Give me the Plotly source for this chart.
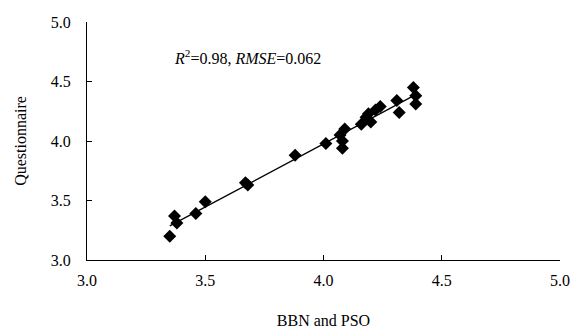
import numpy as np
import plotly.graph_objects as go

bbn_pso = [3.35, 3.37, 3.38, 3.46, 3.50, 3.67, 3.68, 3.88, 4.01, 4.07, 4.08, 4.08,
           4.09, 4.16, 4.18, 4.19, 4.20, 4.22, 4.24, 4.31, 4.32, 4.38, 4.39, 4.39]
questionnaire = [3.20, 3.37, 3.31, 3.39, 3.49, 3.65, 3.63, 3.88, 3.98, 4.05, 3.94, 4.00,
                 4.10, 4.14, 4.20, 4.23, 4.16, 4.26, 4.29, 4.34, 4.24, 4.45, 4.38, 4.31]
tick_vals = [3.0, 3.5, 4.0, 4.5, 5.0]
tick_text = ["3.0", "3.5", "4.0", "4.5", "5.0"]

x = np.array(bbn_pso)
y = np.array(questionnaire)
slope, intercept = np.polyfit(x, y, 1)
line_x = np.array([x.min(), x.max()])
line_y = slope * line_x + intercept

font_family = "Liberation Serif"

fig = go.Figure()
fig.add_trace(go.Scatter(x=line_x, y=line_y, mode="lines",
                         line=dict(color="black", width=1.3), showlegend=False))
fig.add_trace(go.Scatter(x=bbn_pso, y=questionnaire, mode="markers",
                         marker=dict(symbol="diamond", size=10, color="black"),
                         showlegend=False))

fig.add_annotation(x=3.36, y=4.71, xref="x", yref="y", xanchor="left", yanchor="middle",
                   text="<i>R</i><sup>2</sup>=0.98, <i>RMSE</i>=0.062", showarrow=False,
                   font=dict(family=font_family, size=16, color="black"))

axis_common = dict(range=[3.0, 5.0], tickvals=tick_vals, ticktext=tick_text,
                   showgrid=False, zeroline=False, showline=True, linecolor="black",
                   linewidth=1.2, ticks="inside", ticklen=5, tickcolor="black",
                   automargin=False,
                   tickfont=dict(family=font_family, size=16, color="black"))

fig.update_xaxes(**axis_common, ticklabelstandoff=6,
                 title=dict(text="BBN and PSO", standoff=26,
                            font=dict(family=font_family, size=16, color="black")))
fig.update_yaxes(**axis_common, ticklabelstandoff=12,
                 title=dict(text="Questionnaire", standoff=20,
                            font=dict(family=font_family, size=16, color="black")))

fig.update_layout(width=579, height=333, margin=dict(l=87, r=19, t=22, b=73),
                  plot_bgcolor="white", paper_bgcolor="white",
                  font=dict(family=font_family))

fig.write_html("out.html", config={"displayModeBar": False},
               post_script="document.body.style.margin='0px';")
